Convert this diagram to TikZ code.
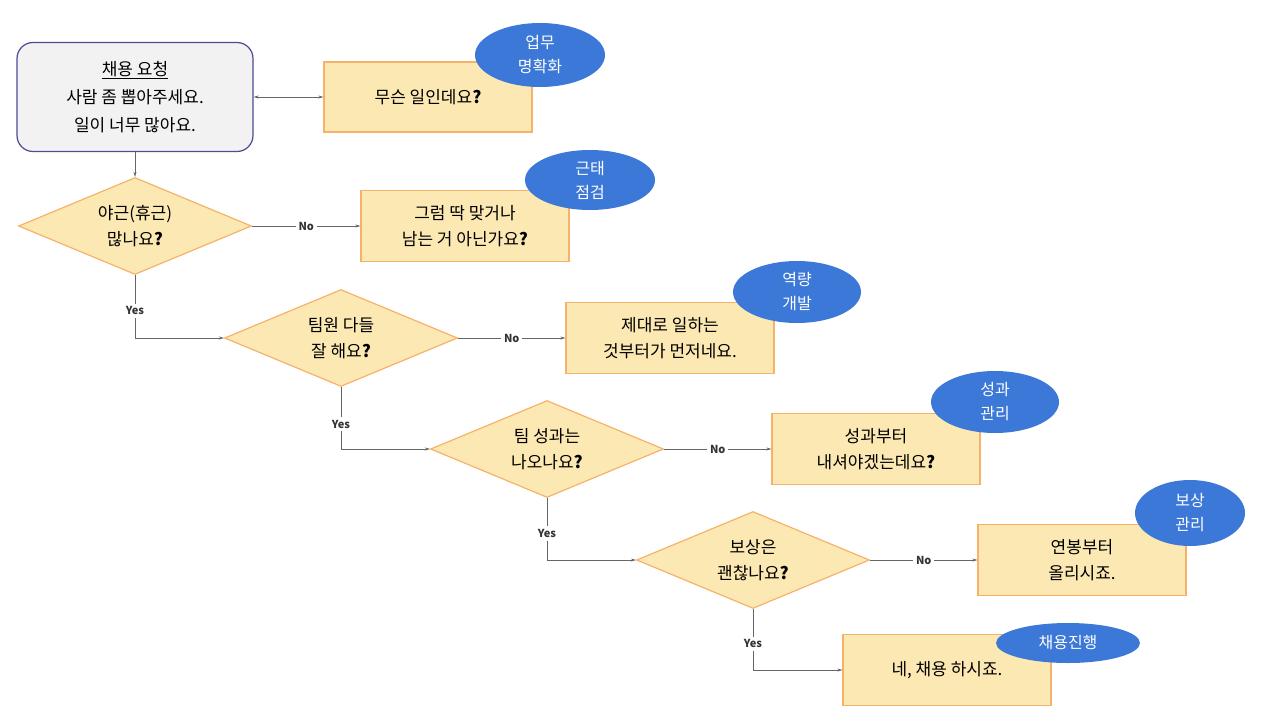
\documentclass[tikz,border=0pt]{standalone}
\usepackage{fontspec}
\setmainfont{Noto Sans CJK KR}
\usetikzlibrary{shapes.geometric,arrows.meta}
\definecolor{boxfill}{HTML}{FCE8B2}
\definecolor{boxline}{HTML}{F6B26B}
\definecolor{tagblue}{HTML}{3C78D8}
\definecolor{ln}{HTML}{666666}
\tikzset{
  ans/.style={draw=boxline,fill=boxfill,line width=1.2pt,minimum width=208pt,minimum height=71pt,align=center,font=\fontsize{17}{26}\selectfont},
  ques/.style={diamond,draw=boxline,fill=boxfill,line width=1.2pt,minimum width=233pt,minimum height=97pt,aspect=2.4,inner sep=0pt,align=center,font=\fontsize{17}{26}\selectfont},
  tag/.style={ellipse,fill=tagblue,text=white,align=center,inner sep=0pt,font=\fontsize{16}{24}\selectfont},
  conn/.style={draw=ln,line width=0.6pt,-{Stealth[length=5pt,width=3pt]}},
  lab/.style={fill=white,font=\bfseries\fontsize{11}{13}\selectfont,text=black!80,inner sep=3pt}
}
\begin{document}
\begin{tikzpicture}[x=1pt,y=-1pt]
\useasboundingbox (0,0) rectangle (1280,720);
\node[draw=black!30!blue!40!gray,fill=black!5,rounded corners=16pt,line width=1.2pt,minimum width=236pt,minimum height=109pt,align=center,font=\fontsize{17}{28}\selectfont] (s) at (135,97) {\underline{채용 요청}\\사람 좀 뽑아주세요.\\일이 너무 많아요.};
\node[ans,minimum height=70pt] (a1) at (428,97) {무슨 일인데요\textbf{?}};
\node[tag,minimum width=130pt,minimum height=64pt] (t1) at (540,55) {업무\\명확화};
\node[ques] (q1) at (135,226) {야근(휴근)\\많나요\textbf{?}};
\node[ans] (a2) at (465,226) {그럼 딱 맞거나\\남는 거 아닌가요\textbf{?}};
\node[tag,minimum width=130pt,minimum height=60pt] (t2) at (590,180) {근태\\점검};
\node[ques] (q2) at (341,338) {팀원 다들\\잘 해요\textbf{?}};
\node[ans] (a3) at (670,338) {제대로 일하는\\것부터가 먼저네요.};
\node[tag,minimum width=128pt,minimum height=62pt] (t3) at (797,292) {역량\\개발};
\node[ques] (q3) at (547,449) {팀 성과는\\나오나요\textbf{?}};
\node[ans] (a4) at (876,449) {성과부터\\내셔야겠는데요\textbf{?}};
\node[tag,minimum width=128pt,minimum height=62pt] (t4) at (995,402) {성과\\관리};
\node[ques] (q4) at (753,560) {보상은\\괜찮나요\textbf{?}};
\node[ans] (a5) at (1082,560) {연봉부터\\올리시죠.};
\node[tag,minimum width=110pt,minimum height=66pt] (t5) at (1190,513) {보상\\관리};
\node[ans] (a6) at (947,670) {네, 채용 하시죠.};
\node[tag,minimum width=144pt,minimum height=40pt] (t6) at (1068,643) {채용진행};
\draw[conn,{Stealth[length=5pt,width=3pt]}-{Stealth[length=5pt,width=3pt]}] (s.east) -- (a1.west);
\draw[conn] (s.south) -- (q1.north);
\draw[conn] (q1.east) -- node[lab]{No} (a2.west);
\draw[conn] (q2.east) -- node[lab]{No} (a3.west);
\draw[conn] (q3.east) -- node[lab]{No} (a4.west);
\draw[conn] (q4.east) -- node[lab]{No} (a5.west);
\draw[conn] (q1.south) -- node[lab,pos=0.57]{Yes} (q1.south |- q2.west) -- (q2.west);
\draw[conn] (q2.south) -- node[lab,pos=0.6]{Yes} (q2.south |- q3.west) -- (q3.west);
\draw[conn] (q3.south) -- node[lab,pos=0.57]{Yes} (q3.south |- q4.west) -- (q4.west);
\draw[conn] (q4.south) -- node[lab,pos=0.57]{Yes} (q4.south |- a6.west) -- (a6.west);
\end{tikzpicture}
\end{document}
